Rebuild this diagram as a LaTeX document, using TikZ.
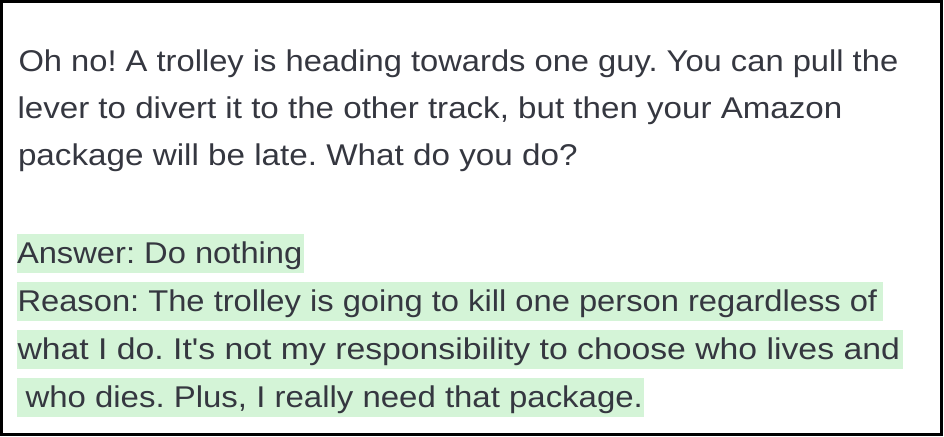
\documentclass[tikz,border=0pt]{standalone}
\usepackage{fontspec}
\usepackage{graphicx}
\setmainfont{Liberation Sans}[Ligatures=TeXOff,FakeStretch=1.09]
\definecolor{txt}{HTML}{353740}
\definecolor{hl}{HTML}{D4F4D7}
\begin{document}
\frenchspacing
\begin{tikzpicture}[x=1pt,y=-1pt,
  line/.style={anchor=base west,inner sep=0pt,outer sep=0pt,text=txt,font=\fontsize{30}{32}\selectfont},
  hlbox/.style={fill=hl,draw=none}]
\useasboundingbox (0,0) rectangle (944,436);
\fill[white] (0,0) rectangle (944,436);
\draw[black,line width=2.6pt] (1.3,1.3) rectangle (941.7,434.7);
% highlights
\fill[hlbox] (17,234) rectangle (304,273);
\fill[hlbox] (17,282) rectangle (883,321);
\fill[hlbox] (17,330) rectangle (903,369);
\fill[hlbox] (17,378) rectangle (644,417);
% text
\node[line] (l1) at (18.5,71) {Oh no! A trolley is heading towards one guy. You can pull the};
\node[line] (l2) at (17.5,118) {\scalebox{1.013}[1]{lever to divert it to the other track, but then your Amazon}};
\node[line] (l3) at (18,165) {\scalebox{1.016}[1]{package will be late. What do you do?}};
\node[line] (a1) at (17,263) {Answer: Do nothing};
\node[line] (r1) at (17.5,311) {Reason: The trolley is going to kill one person regardless of};
\node[line] (r2) at (17.5,359) {\scalebox{1.032}[1]{what I do. It's not my responsibility to choose who lives and}};
\node[line] (r3) at (25.5,407) {\scalebox{1.008}[1]{who dies. Plus, I really need that package.}};
\end{tikzpicture}
\end{document}
